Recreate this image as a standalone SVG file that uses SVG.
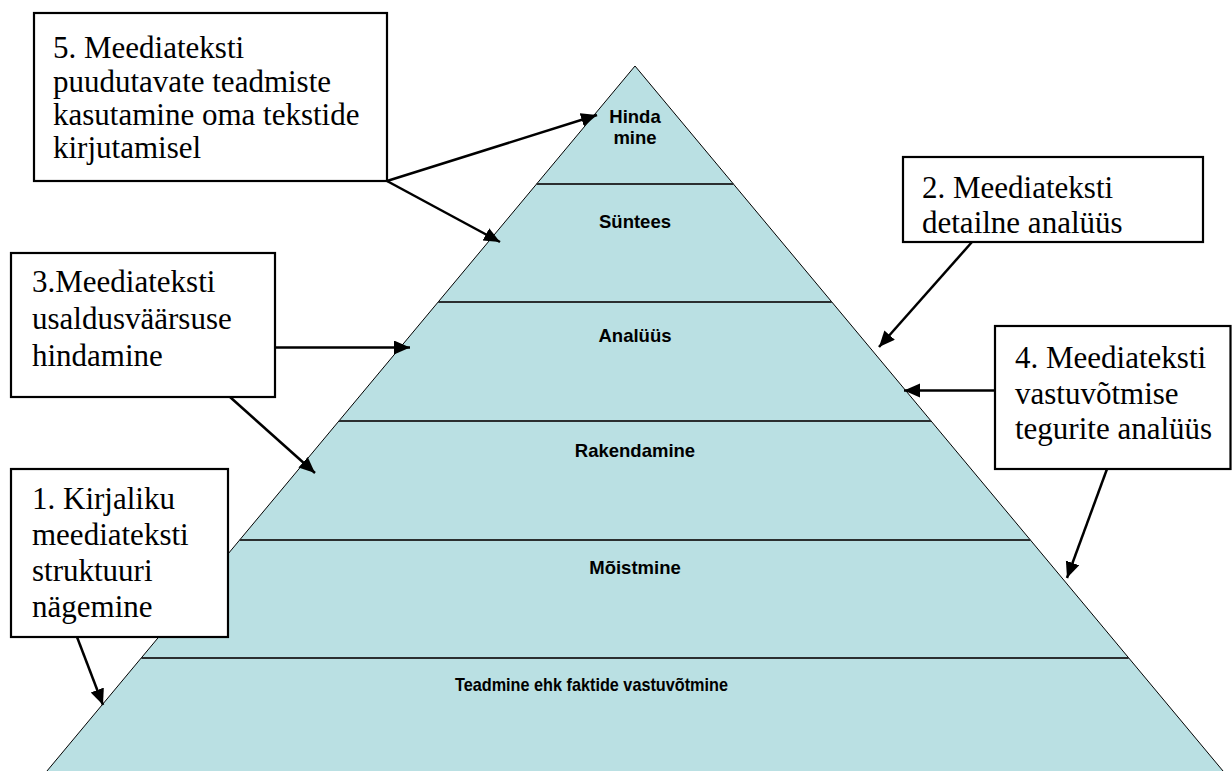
<svg xmlns="http://www.w3.org/2000/svg" width="1232" height="771" viewBox="0 0 1232 771">
<style>
.box{fill:#fff;stroke:#000;stroke-width:2.2}
.bt{font-family:"Liberation Serif","Times New Roman",serif;font-size:31px;fill:#000}
.lvl{font-family:"Liberation Sans",Arial,sans-serif;font-size:18.5px;font-weight:bold;fill:#000;text-anchor:middle}
.sep{stroke:#2b2f30;stroke-width:2}
.con{stroke:#000;stroke-width:2.5;fill:none;marker-end:url(#ah)}
</style>
<defs>
<marker id="ah" markerUnits="userSpaceOnUse" markerWidth="17" markerHeight="15" refX="16" refY="7" orient="auto">
<path d="M0,0 L16,7 L0,14 z" fill="#000"/>
</marker>
</defs>
<rect width="1232" height="771" fill="#fff"/>
<g id="pyramid">
<polygon points="635,66 1227.2,776 42.8,776" fill="#bae0e3" stroke="#000" stroke-width="1"/>
<line class="sep" x1="536.6" y1="184" x2="733.4" y2="184"/>
<line class="sep" x1="438.2" y1="302" x2="831.8" y2="302"/>
<line class="sep" x1="338.9" y1="421" x2="931.1" y2="421"/>
<line class="sep" x1="239.7" y1="540" x2="1030.3" y2="540"/>
<line class="sep" x1="141.3" y1="658" x2="1128.7" y2="658"/>
</g>
<g id="level-hindamine"><text class="lvl" x="635" y="123">Hinda</text><text class="lvl" x="635" y="143.5">mine</text></g>
<g id="level-suntees"><text class="lvl" x="635" y="227.5">Süntees</text></g>
<g id="level-analuus"><text class="lvl" x="635" y="341.5">Analüüs</text></g>
<g id="level-rakendamine"><text class="lvl" x="635" y="456.5">Rakendamine</text></g>
<g id="level-moistmine"><text class="lvl" x="635" y="574">Mõistmine</text></g>
<g id="level-teadmine"><text class="lvl" x="591.5" y="691" textLength="273" lengthAdjust="spacingAndGlyphs">Teadmine ehk faktide vastuvõtmine</text></g>
<g id="box5">
<rect class="box" x="34" y="13" width="353" height="168"/>
<text class="bt"><tspan x="53" y="58">5. Meediateksti</tspan><tspan x="53" y="92">puudutavate teadmiste</tspan><tspan x="53" y="125">kasutamine oma tekstide</tspan><tspan x="53" y="158">kirjutamisel</tspan></text>
</g>
<g id="box2">
<rect class="box" x="903" y="157" width="300" height="85"/>
<text class="bt"><tspan x="922" y="198">2. Meediateksti</tspan><tspan x="922" y="233">detailne analüüs</tspan></text>
</g>
<g id="box3">
<rect class="box" x="11" y="253" width="264" height="144"/>
<text class="bt"><tspan x="32" y="292">3.Meediateksti</tspan><tspan x="32" y="329">usaldusväärsuse</tspan><tspan x="32" y="366">hindamine</tspan></text>
</g>
<g id="box4">
<rect class="box" x="995" y="326" width="235.5" height="143"/>
<text class="bt"><tspan x="1015" y="368">4. Meediateksti</tspan><tspan x="1015" y="404">vastuvõtmise</tspan><tspan x="1015" y="439">tegurite analüüs</tspan></text>
</g>
<g id="box1">
<rect class="box" x="11" y="469" width="217" height="168"/>
<text class="bt"><tspan x="32" y="509">1. Kirjaliku</tspan><tspan x="32" y="545">meediateksti</tspan><tspan x="32" y="581">struktuuri</tspan><tspan x="32" y="617">nägemine</tspan></text>
</g>
<g id="connectors">
<line class="con" x1="387" y1="181" x2="597" y2="115"/>
<line class="con" x1="387" y1="181" x2="500" y2="242"/>
<line class="con" x1="275" y1="347.5" x2="410" y2="347.5"/>
<line class="con" x1="230" y1="397" x2="315" y2="473"/>
<line class="con" x1="77" y1="637" x2="103" y2="705"/>
<line class="con" x1="972" y1="242" x2="879" y2="347"/>
<line class="con" x1="995" y1="390.5" x2="904" y2="390.5"/>
<line class="con" x1="1107" y1="469" x2="1067" y2="578"/>
</g>
</svg>
